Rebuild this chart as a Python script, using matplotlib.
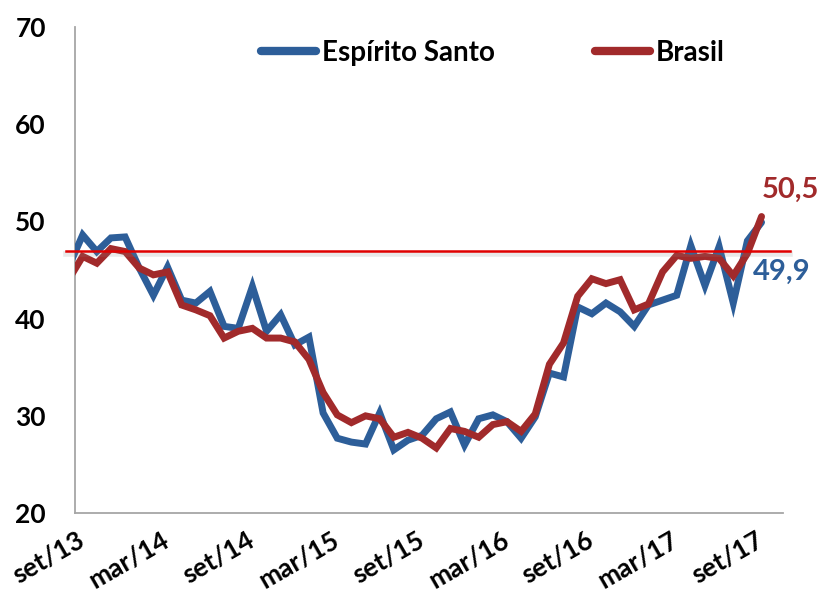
import matplotlib
matplotlib.use("Agg")
import matplotlib.pyplot as plt
import matplotlib.patheffects as pe
import numpy as np

# monthly series, ago/13 .. set/17 (first point sits just left of the axis)
months = ["ago/13", "set/13", "out/13", "nov/13", "dez/13", "jan/14", "fev/14", "mar/14",
          "abr/14", "mai/14", "jun/14", "jul/14", "ago/14", "set/14", "out/14", "nov/14",
          "dez/14", "jan/15", "fev/15", "mar/15", "abr/15", "mai/15", "jun/15", "jul/15",
          "ago/15", "set/15", "out/15", "nov/15", "dez/15", "jan/16", "fev/16", "mar/16",
          "abr/16", "mai/16", "jun/16", "jul/16", "ago/16", "set/16", "out/16", "nov/16",
          "dez/16", "jan/17", "fev/17", "mar/17", "abr/17", "mai/17", "jun/17", "jul/17",
          "ago/17", "set/17"]

espirito_santo = [45.3, 48.6, 46.9, 48.3, 48.4, 45.2, 42.4, 45.3, 41.9, 41.6,
                  42.8, 39.2, 39.0, 43.3, 38.7, 40.4, 37.3, 38.1, 30.3, 27.7,
                  27.3, 27.1, 30.3, 26.5, 27.5, 28.0, 29.7, 30.4, 27.0, 29.7,
                  30.1, 29.4, 27.7, 29.9, 34.4, 34.0, 41.2, 40.5, 41.6, 40.7,
                  39.2, 41.4, 41.9, 42.4, 47.5, 43.4, 47.4, 41.6, 48.0, 49.9]

brasil = [44.0, 46.4, 45.7, 47.2, 46.9, 45.2, 44.5, 44.8, 41.4, 40.9,
          40.3, 38.0, 38.7, 39.0, 38.0, 38.0, 37.6, 35.8, 32.4, 30.1,
          29.3, 30.0, 29.7, 27.8, 28.3, 27.7, 26.7, 28.7, 28.4, 27.8,
          29.1, 29.4, 28.4, 30.2, 35.3, 37.5, 42.3, 44.1, 43.6, 44.0,
          40.9, 41.5, 44.8, 46.5, 46.2, 46.4, 46.2, 44.4, 46.7, 50.5]

ref_level = 47.0
tick_labels = ["set/13", "mar/14", "set/14", "mar/15", "set/15",
               "mar/16", "set/16", "mar/17", "set/17"]

BLUE = "#2D5E99"
RED = "#A12A2B"

plt.rcParams['font.family'] = ['Lato', 'DejaVu Sans']
plt.rcParams['font.weight'] = 'bold'

fig = plt.figure(figsize=(8.23, 5.98), dpi=100)
ax = fig.add_axes([0.0911, 0.142, 0.860, 0.813])

x = np.arange(len(months)) - 1  # set/13 -> 0

ax.plot(x, espirito_santo, color=BLUE, lw=5, solid_joinstyle='miter',
        solid_capstyle='round', label="Espírito Santo", zorder=3)
ax.plot(x, brasil, color=RED, lw=5, solid_joinstyle='miter',
        solid_capstyle='round', label="Brasil", zorder=4)

# reference line with a soft shadow underneath
ax.axhline(ref_level, xmin=-0.013, xmax=1.01, color="#E00000", lw=1.8,
           clip_on=False, zorder=5,
           path_effects=[pe.SimpleLineShadow(offset=(0, -2.5), shadow_color='#888888',
                                             alpha=0.18, linewidth=4),
                         pe.Normal()])

ax.set_xlim(-0.544, 49.5)
ax.set_ylim(20, 70)
ax.set_yticks(range(20, 71, 10))
ax.set_yticklabels([str(v) for v in range(20, 71, 10)], fontsize=19, fontweight='bold')

tick_pos = [months.index(t) - 1 for t in tick_labels]
ax.set_xticks(tick_pos)
ax.set_xticklabels(tick_labels, rotation=30, ha='right', va='center',
                   rotation_mode='anchor', fontsize=19, fontweight='bold')

ax.tick_params(axis='y', length=0, pad=21)
ax.tick_params(axis='x', length=0, pad=18)

for side in ["top", "right"]:
    ax.spines[side].set_visible(False)
for side in ["left", "bottom"]:
    ax.spines[side].set_color("#A6A6A6")
    ax.spines[side].set_linewidth(1.3)

# end labels
ax.text(x[-1] + 0.05, 53.2, "50,5", color=RED, fontsize=21,
        fontweight='bold', ha='left', va='center')
ax.text(x[-1] - 0.6, 44.8, "49,9", color=BLUE, fontsize=21,
        fontweight='bold', ha='left', va='center')

leg = ax.legend(loc='upper center', bbox_to_anchor=(0.59, 1.025), ncol=2, frameon=False,
                handlelength=2.0, handletextpad=0.2, columnspacing=3.6,
                prop={'weight': 'bold', 'size': 20})
for h in leg.get_lines():
    h.set_linewidth(6)
    h.set_solid_capstyle('round')

fig.savefig("out.png", dpi=100)
